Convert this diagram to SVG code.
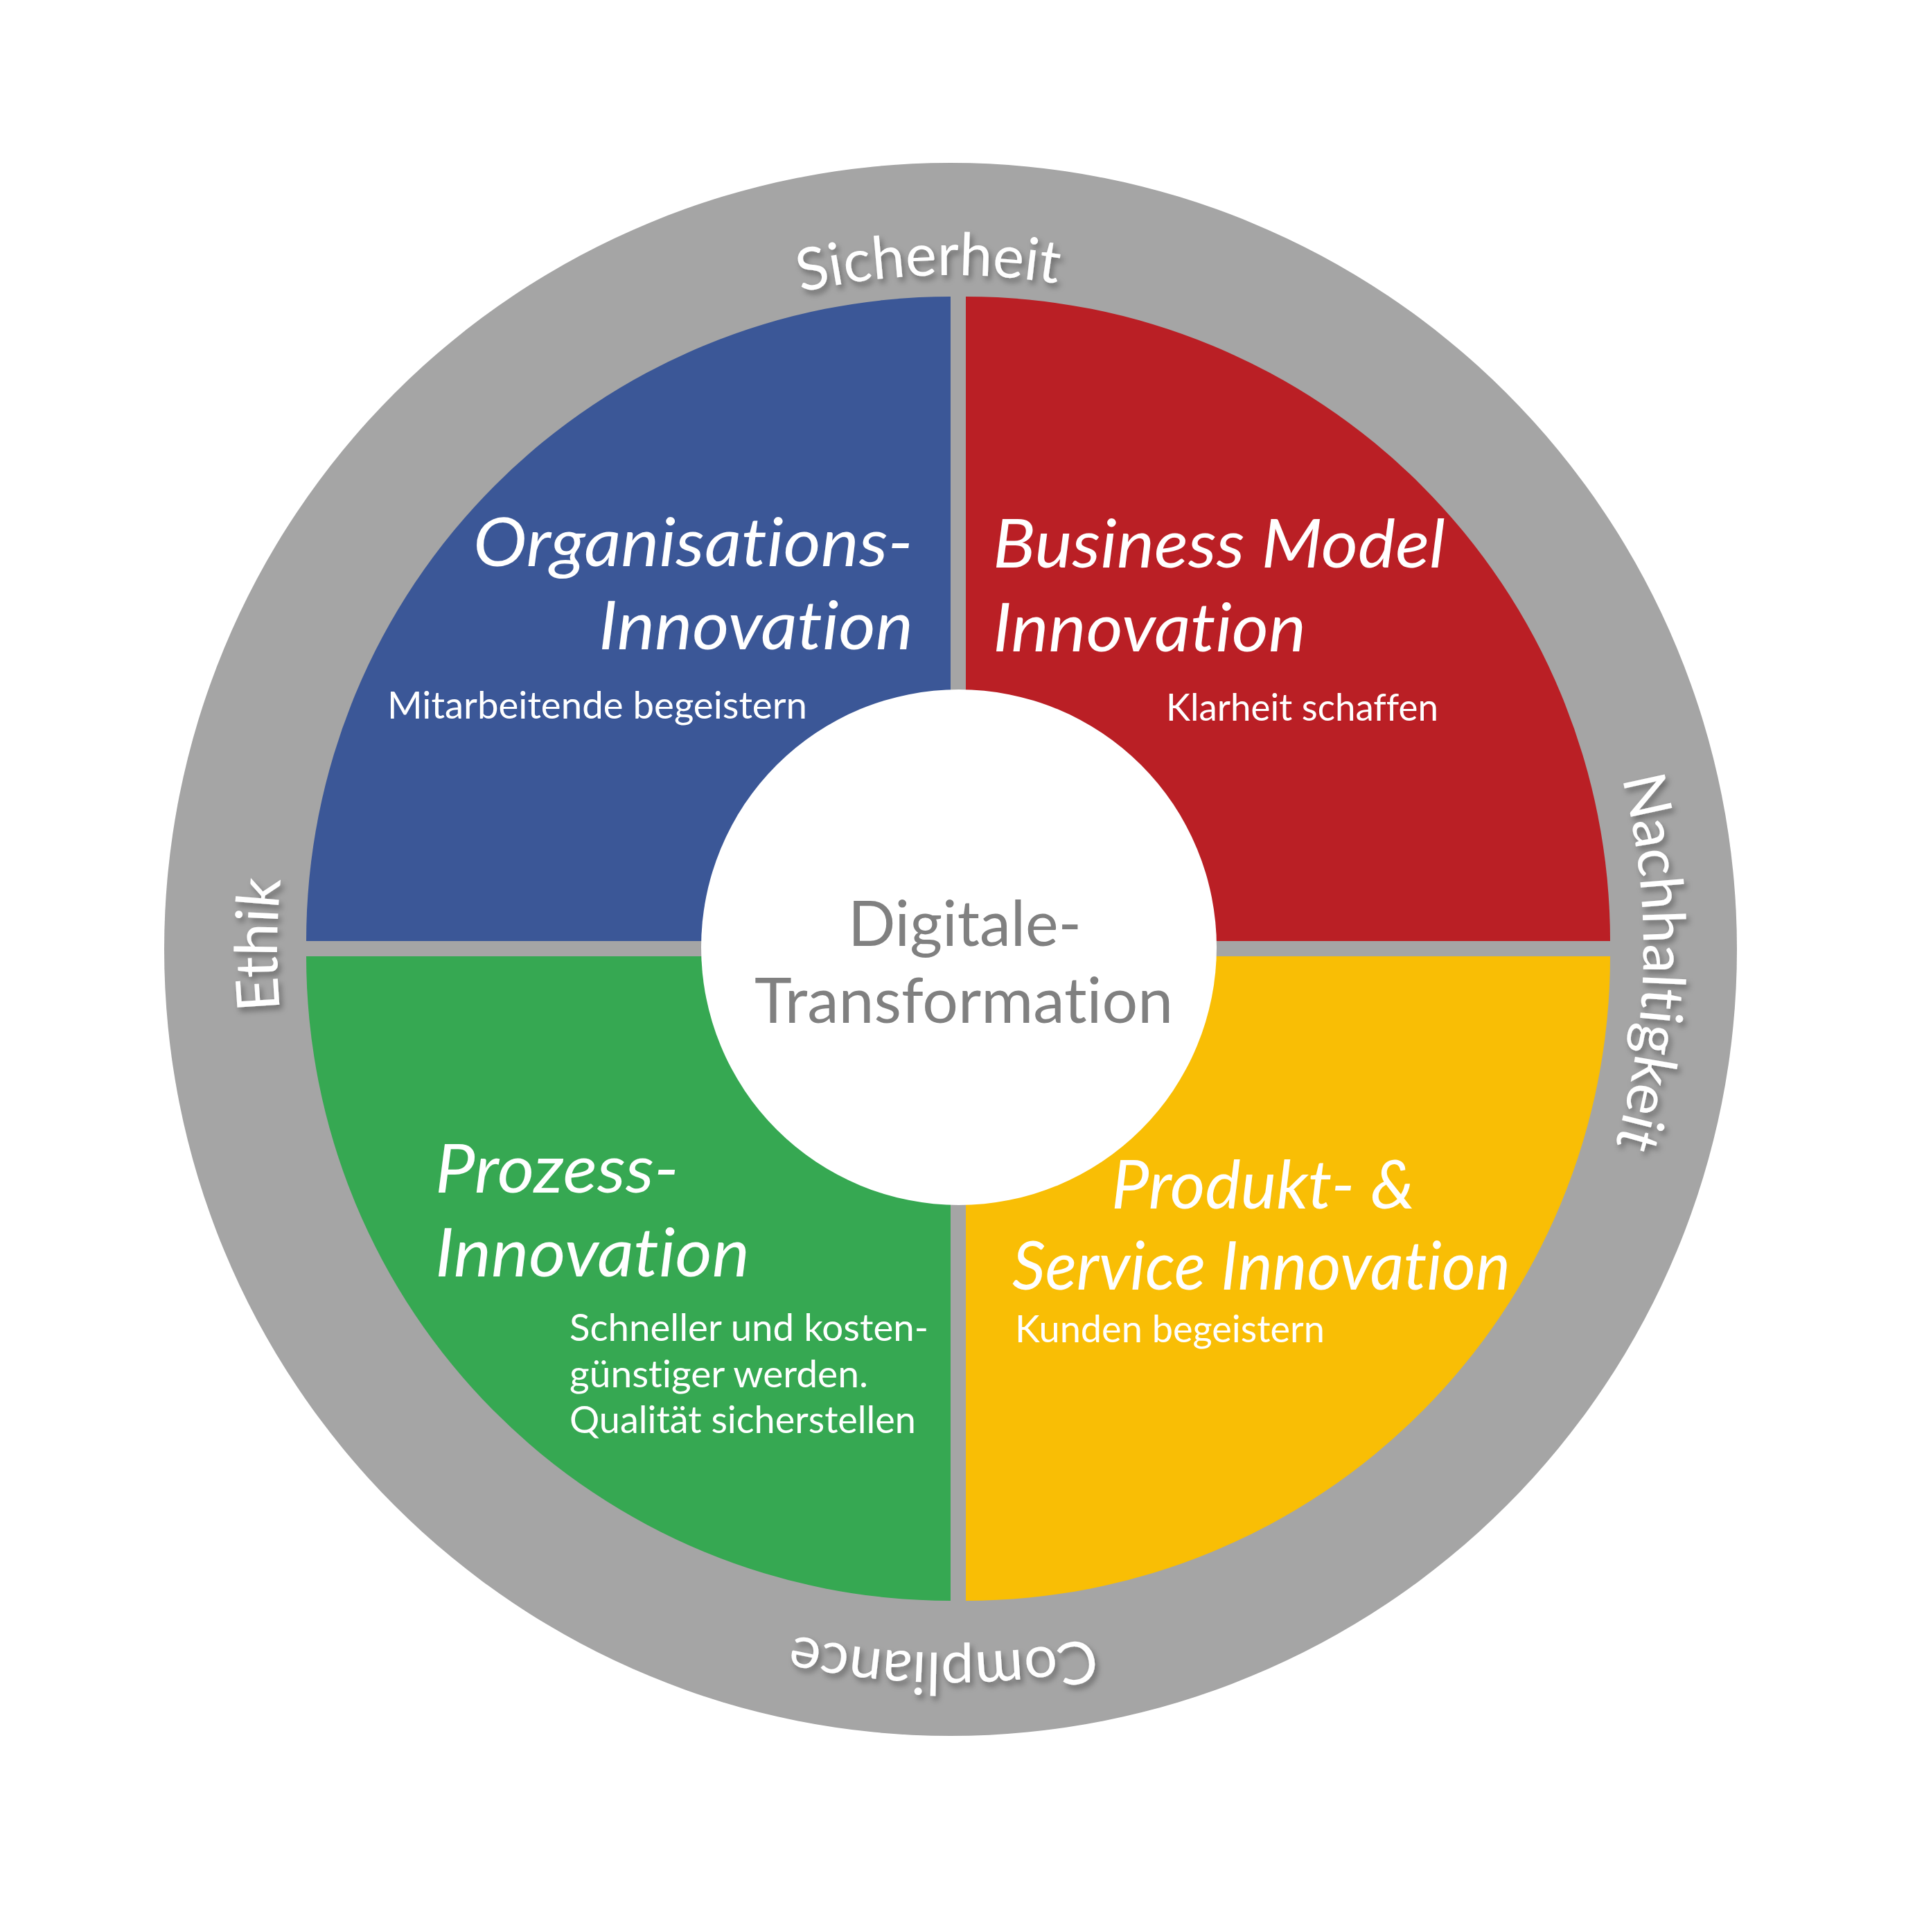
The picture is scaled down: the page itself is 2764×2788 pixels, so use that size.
<svg xmlns="http://www.w3.org/2000/svg" xmlns:xlink="http://www.w3.org/1999/xlink" width="2764" height="2788" viewBox="0 0 2764 2788">
  <style>
    text { font-family: Lato, "Open Sans", "DejaVu Sans", sans-serif; fill: #ffffff; font-variant-ligatures: none; font-feature-settings: "liga" 0, "clig" 0, "dlig" 0; }
    .head { font-style: italic; font-size: 98px; }
    .sub { font-style: normal; font-size: 54px; }
    .core { font-size: 91px; fill: #808080; }
    .ringlabel { font-size: 85px; fill: #ffffff; filter: url(#shadow); }
  </style>
  <defs>
    <filter id="shadow" x="-20%" y="-20%" width="140%" height="140%">
      <feDropShadow dx="4" dy="6" stdDeviation="4" flood-color="#000000" flood-opacity="0.35"/>
    </filter>
    <path id="arcTop" d="M723.3,645.7 A974,974 0 0 1 1973.0,603.5"/>
    <path id="arcRight" d="M2149.8,741.4 A1000,1000 0 0 1 2126.1,2026.7"/>
    <path id="arcBottom" d="M2016.2,2154.3 A1015,1015 0 0 1 711.4,2140.7"/>
    <path id="arcLeft" d="M623.1,1989.6 A972,972 0 0 1 631.8,740.0"/>
  </defs>

  <rect x="0" y="0" width="2764" height="2788" fill="#ffffff"/>

  <g id="ring">
    <circle cx="1372" cy="1370" r="1135" fill="#a5a5a5"/>
  </g>

  <g id="organisations-innovation">
    <path d="M1372,1358 L442,1358 A930,930 0 0 1 1372,428 Z" fill="#3b5797"/>
    <text>
      <tspan class="head" x="683" y="817" textLength="635" lengthAdjust="spacingAndGlyphs">Organisations-</tspan>
      <tspan class="head" x="864" y="937" textLength="454" lengthAdjust="spacingAndGlyphs">Innovation</tspan>
      <tspan class="sub" x="559" y="1037" textLength="606" lengthAdjust="spacingAndGlyphs">Mitarbeitende begeistern</tspan>
    </text>
  </g>

  <g id="business-model-innovation">
    <path d="M1394,1358 L1394,428 A930,930 0 0 1 2324,1358 Z" fill="#ba1f25"/>
    <text>
      <tspan class="head" x="1433" y="819" textLength="653" lengthAdjust="spacingAndGlyphs">Business Model</tspan>
      <tspan class="head" x="1433" y="940" textLength="452" lengthAdjust="spacingAndGlyphs">Innovation</tspan>
      <tspan class="sub" x="1683" y="1040" textLength="393" lengthAdjust="spacingAndGlyphs">Klarheit schaffen</tspan>
    </text>
  </g>

  <g id="produkt-service-innovation">
    <path d="M1394,1380 L2324,1380 A930,930 0 0 1 1394,2310 Z" fill="#f9be05"/>
    <text>
      <tspan class="head" x="1604" y="1744" textLength="438" lengthAdjust="spacingAndGlyphs">Produkt- &amp;</tspan>
      <tspan class="head" x="1461" y="1861" textLength="719" lengthAdjust="spacingAndGlyphs">Service Innovation</tspan>
      <tspan class="sub" x="1465" y="1937" textLength="447" lengthAdjust="spacingAndGlyphs">Kunden begeistern</tspan>
    </text>
  </g>

  <g id="prozess-innovation">
    <path d="M1372,1380 L1372,2310 A930,930 0 0 1 442,1380 Z" fill="#36a852"/>
    <text>
      <tspan class="head" x="628" y="1721" textLength="352" lengthAdjust="spacingAndGlyphs">Prozess-</tspan>
      <tspan class="head" x="628" y="1842" textLength="454" lengthAdjust="spacingAndGlyphs">Innovation</tspan>
      <tspan class="sub" x="822" y="1935" textLength="518" lengthAdjust="spacingAndGlyphs">Schneller und kosten-</tspan>
      <tspan class="sub" x="822" y="2002" textLength="431" lengthAdjust="spacingAndGlyphs">günstiger werden.</tspan>
      <tspan class="sub" x="822" y="2068" textLength="500" lengthAdjust="spacingAndGlyphs">Qualität sicherstellen</tspan>
    </text>
  </g>

  <g id="digitale-transformation">
    <circle cx="1384" cy="1367" r="372" fill="#ffffff"/>
    <text class="core">
      <tspan x="1224" y="1365" textLength="337" lengthAdjust="spacingAndGlyphs">Digitale-</tspan>
      <tspan x="1089" y="1476" textLength="604" lengthAdjust="spacingAndGlyphs">Transformation</tspan>
    </text>
  </g>

  <g id="ring-labels">
    <text id="label-sicherheit" class="ringlabel" text-anchor="middle"><textPath href="#arcTop" xlink:href="#arcTop" startOffset="50%">Sicherheit</textPath></text>
    <text id="label-nachhaltigkeit" class="ringlabel" text-anchor="middle"><textPath href="#arcRight" xlink:href="#arcRight" startOffset="50%">Nachhaltigkeit</textPath></text>
    <text id="label-compliance" class="ringlabel" text-anchor="middle"><textPath href="#arcBottom" xlink:href="#arcBottom" startOffset="50%">Compliance</textPath></text>
    <text id="label-ethik" class="ringlabel" text-anchor="middle"><textPath href="#arcLeft" xlink:href="#arcLeft" startOffset="50%">Ethik</textPath></text>
  </g>

  <g id="connectors"/>
</svg>
